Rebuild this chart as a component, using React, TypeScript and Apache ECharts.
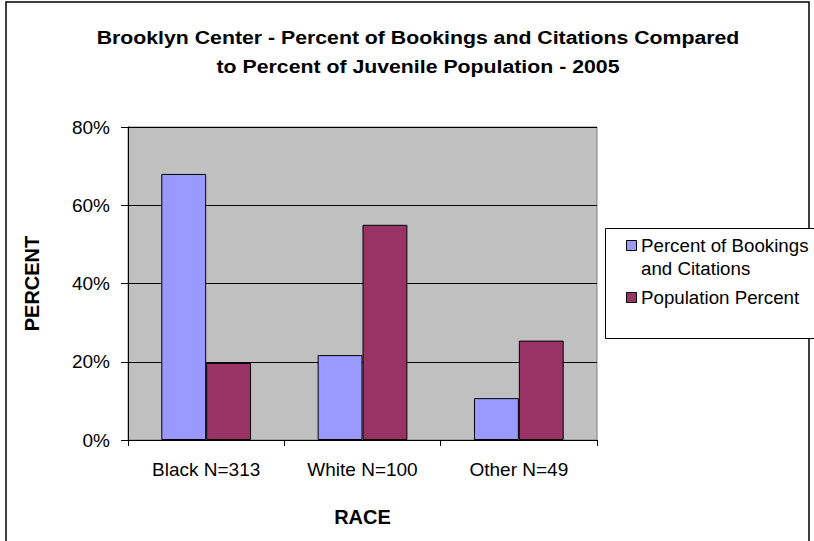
import React, { useEffect, useRef } from "react";
import * as echarts from "echarts";

const titleLines = [
  "Brooklyn Center - Percent of Bookings and Citations Compared",
  "to Percent of Juvenile Population - 2005",
];
const categories = ["Black N=313", "White N=100", "Other N=49"];
const seriesNames = ["Percent of Bookings and Citations", "Population Percent"];
const legendLabels = ["Percent of Bookings\nand Citations", "Population Percent"];
const bookingsPct = [0.68, 0.217, 0.107];
const populationPct = [0.197, 0.55, 0.254];
const yTicks = [0, 0.2, 0.4, 0.6, 0.8];
const colors = ["#9999FF", "#993366"];

const FONT = "'Liberation Sans', Arial, sans-serif";

export default function App() {
  const ref = useRef<HTMLDivElement>(null);
  useEffect(() => {
    if (!ref.current) return;
    const chart = echarts.init(ref.current, undefined, { renderer: "svg" });
    chart.setOption({
      animation: false,
      backgroundColor: "#ffffff",
      textStyle: { fontFamily: FONT },
      grid: {
        left: 128,
        right: 217,
        top: 127,
        bottom: 101,
        show: true,
        backgroundColor: "#C0C0C0",
        borderColor: "#808080",
        borderWidth: 1,
      },
      xAxis: {
        type: "category",
        data: categories,
        name: "RACE",
        nameLocation: "middle",
        nameGap: 67,
        nameTextStyle: { fontFamily: FONT, fontSize: 20, fontWeight: "bold", color: "#000" },
        axisLine: { show: true, lineStyle: { color: "#000", width: 1 } },
        axisTick: { show: true, length: 6, lineStyle: { color: "#000" } },
        axisLabel: { fontFamily: FONT, fontSize: 19, color: "#000", margin: 20 },
        splitLine: { show: false },
      },
      yAxis: {
        type: "value",
        min: yTicks[0],
        max: yTicks[yTicks.length - 1],
        interval: 0.2,
        name: "PERCENT",
        nameLocation: "middle",
        nameGap: 86,
        nameRotate: 90,
        nameTextStyle: { fontFamily: FONT, fontSize: 20, fontWeight: "bold", color: "#000" },
        axisLine: { show: true, lineStyle: { color: "#000", width: 1 } },
        axisTick: { show: true, length: 7, lineStyle: { color: "#000" } },
        axisLabel: {
          fontFamily: FONT,
          fontSize: 19,
          color: "#000",
          margin: 18,
          formatter: (v: number) => Math.round(v * 100) + "%",
        },
        splitLine: { show: true, lineStyle: { color: "#000", width: 1 } },
      },
      series: [
        {
          name: seriesNames[0],
          type: "bar",
          data: bookingsPct,
          barGap: "0%",
          barCategoryGap: "42.6%",
          itemStyle: { color: colors[0], borderColor: "#000", borderWidth: 1 },
        },
        {
          name: seriesNames[1],
          type: "bar",
          data: populationPct,
          barGap: "0%",
          barCategoryGap: "42.6%",
          itemStyle: { color: colors[1], borderColor: "#000", borderWidth: 1 },
        },
      ],
      graphic: [
        {
          type: "rect",
          shape: { x: 6, y: 2, width: 803, height: 600 },
          style: { fill: "none", stroke: "#000", lineWidth: 1.5 },
          silent: true,
          z: 100,
        },
        {
          type: "text",
          x: 418,
          y: 37,
          scaleX: 1.12,
          style: {
            text: titleLines[0],
            fontFamily: FONT,
            fontSize: 19,
            fontWeight: "bold",
            fill: "#000",
            align: "center",
            verticalAlign: "middle",
          },
          z: 101,
        },
        {
          type: "text",
          x: 418,
          y: 66,
          scaleX: 1.12,
          style: {
            text: titleLines[1],
            fontFamily: FONT,
            fontSize: 19,
            fontWeight: "bold",
            fill: "#000",
            align: "center",
            verticalAlign: "middle",
          },
          z: 101,
        },
        {
          type: "rect",
          shape: { x: 605.5, y: 228.5, width: 220, height: 110 },
          style: { fill: "#fff", stroke: "#000", lineWidth: 1 },
          z: 110,
        },
        {
          type: "rect",
          shape: { x: 626.5, y: 240.5, width: 10, height: 10 },
          style: { fill: colors[0], stroke: "#000", lineWidth: 1 },
          z: 111,
        },
        {
          type: "text",
          x: 641,
          y: 234,
          scaleX: 1.04,
          style: {
            text: legendLabels[0],
            fontFamily: FONT,
            fontSize: 18,
            lineHeight: 23,
            fill: "#000",
          },
          z: 111,
        },
        {
          type: "rect",
          shape: { x: 626.5, y: 292.5, width: 10, height: 10 },
          style: { fill: colors[1], stroke: "#000", lineWidth: 1 },
          z: 111,
        },
        {
          type: "text",
          x: 641,
          y: 286,
          scaleX: 1.04,
          style: {
            text: legendLabels[1],
            fontFamily: FONT,
            fontSize: 18,
            lineHeight: 23,
            fill: "#000",
          },
          z: 111,
        },
      ],
    });
    return () => chart.dispose();
  }, []);
  return (
    <div
      ref={ref}
      style={{ position: "fixed", left: 0, top: 0, width: 814, height: 541 }}
    />
  );
}
